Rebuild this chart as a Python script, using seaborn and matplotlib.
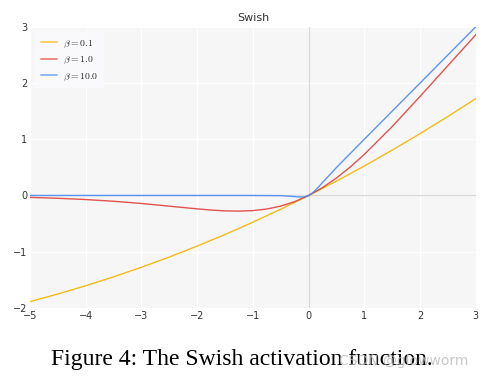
import matplotlib
matplotlib.use("Agg")
import matplotlib.pyplot as plt
import seaborn as sns
import pandas as pd

# values
x_b01 = [-5, -4.5, -4, -3.5, -3, -2.5, -2, -1.5, -1, -0.5, 0, 0.5, 1, 1.5, 2, 2.5, 3]
y_b01 = [-1.888, -1.752, -1.605, -1.447, -1.277, -1.095, -0.900, -0.694, -0.475, -0.244,
         0.0, 0.256, 0.525, 0.806, 1.100, 1.405, 1.723]

x_b1 = [-5, -4.5, -4, -3.5, -3, -2.5, -2, -1.75, -1.5, -1.25, -1, -0.75, -0.5, -0.25,
        0, 0.25, 0.5, 0.75, 1, 1.5, 2, 2.5, 3]
y_b1 = [-0.034, -0.050, -0.072, -0.103, -0.142, -0.190, -0.238, -0.259, -0.274, -0.278,
        -0.269, -0.241, -0.189, -0.109, 0.0, 0.141, 0.311, 0.509, 0.731, 1.226, 1.762,
        2.310, 2.858]

x_b10 = [-5, -3, -1, -0.5, -0.25, -0.2, -0.15, -0.1, -0.05, 0, 0.05, 0.1, 0.15, 0.2,
         0.25, 0.5, 1, 2, 3]
y_b10 = [0.0, 0.0, 0.0, -0.003, -0.019, -0.024, -0.027, -0.027, -0.019, 0.0, 0.031,
         0.073, 0.123, 0.176, 0.231, 0.497, 1.0, 2.0, 3.0]

labels = [r"$\beta=0.1$", r"$\beta=1.0$", r"$\beta=10.0$"]
colors = ["#f5b400", "#e0413b", "#4a8af4"]
x_ticks = [-5, -4, -3, -2, -1, 0, 1, 2, 3]
y_ticks = [-2, -1, 0, 1, 2, 3]

df = pd.concat([
    pd.DataFrame({"x": x_b01, "y": y_b01, "beta": labels[0]}),
    pd.DataFrame({"x": x_b1, "y": y_b1, "beta": labels[1]}),
    pd.DataFrame({"x": x_b10, "y": y_b10, "beta": labels[2]}),
])

sns.set_style("white", {"axes.facecolor": "#f6f6f6", "grid.color": "white"})
plt.rcParams["mathtext.fontset"] = "cm"

fig = plt.figure(figsize=(4.84, 3.83), dpi=100)
ax = fig.add_axes([0.062, 0.196, 0.921, 0.734])

ax.grid(True, color="white", linewidth=0.9)
ax.axhline(0, color="#d8d8d8", linewidth=0.9, zorder=1)
ax.axvline(0, color="#d8d8d8", linewidth=0.9, zorder=1)

sns.lineplot(data=df, x="x", y="y", hue="beta", palette=dict(zip(labels, colors)),
             hue_order=labels, linewidth=1.0, alpha=0.9, sort=True, ax=ax, zorder=3)

ax.set_xlim(-5, 3)
ax.set_ylim(-2, 3)
ax.set_xticks(x_ticks)
ax.set_yticks(y_ticks)
ax.tick_params(axis="both", labelsize=7, colors="#333333", length=0, pad=2)
for s in ax.spines.values():
    s.set_visible(False)
ax.set_xlabel("")
ax.set_ylabel("")
ax.set_title("Swish", fontsize=8, color="#333333", pad=4)

leg = ax.legend(loc="upper left", fontsize=7, frameon=True, facecolor="#fafafc",
                edgecolor="none", framealpha=0.95, handlelength=1.7, borderpad=0.6,
                labelspacing=0.45, handletextpad=0.6)
for line in leg.get_lines():
    line.set_alpha(0.6)
    line.set_linewidth(1.4)

fig.text(0.5, 0.062, "Figure 4: The Swish activation function.", ha="center", va="center",
         fontsize=17, family="Liberation Serif", color="black")
fig.text(0.835, 0.058, "CSDN @glowworm", ha="center", va="center", fontsize=10,
         color="#bbbbbb", alpha=0.8)

fig.savefig("out.png", dpi=100)
